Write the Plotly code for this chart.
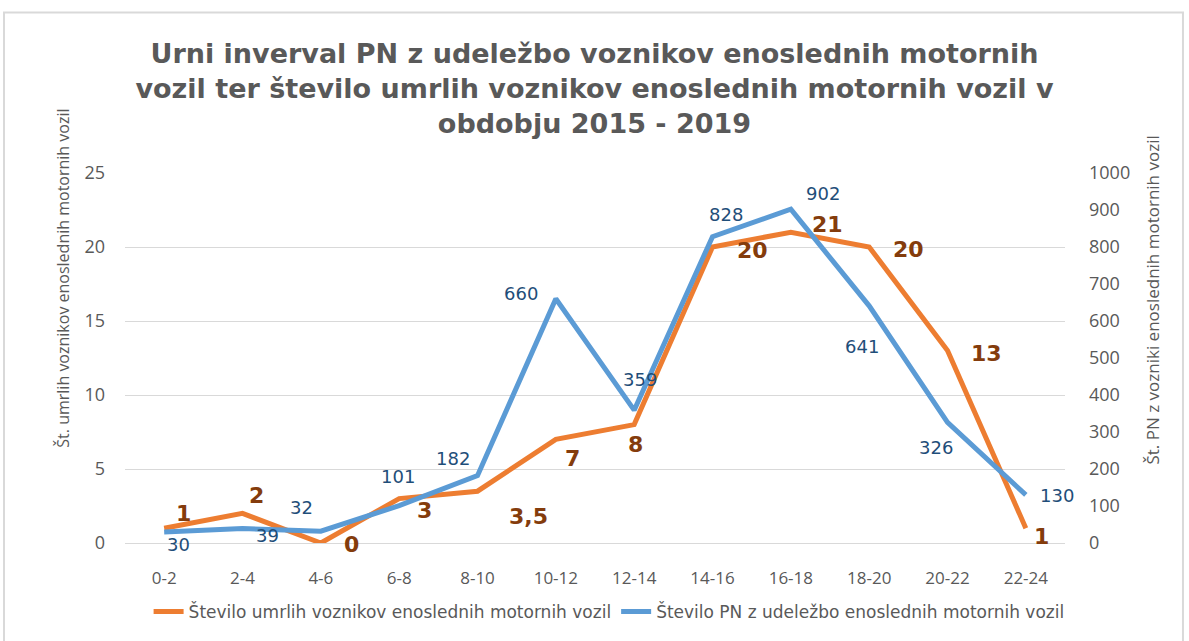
import plotly.graph_objects as go

categories = ["0-2", "2-4", "4-6", "6-8", "8-10", "10-12", "12-14", "14-16", "16-18", "18-20", "20-22", "22-24"]
deaths = [1, 2, 0, 3, 3.5, 7, 8, 20, 21, 20, 13, 1]
deaths_labels = ["1", "2", "0", "3", "3,5", "7", "8", "20", "21", "20", "13", "1"]
accidents = [30, 39, 32, 101, 182, 660, 359, 828, 902, 641, 326, 130]

# label offsets (pixels) – style only
d_shift = [(19, 15), (14, 18), (31, -1), (25, -12), (51, -25), (17, -19), (1, -20),
           (40, -3), (37, 8), (39, -2), (39, -3), (16, -8)]
a_shift = [(14, -13), (25, -7), (-19, 24), (-1, 29), (-25, 17), (-35, 5), (6, 31),
           (13, 22), (32, 16), (-7, -41), (-12, -25), (31, -1)]

ORANGE = "#ED7D31"
BLUE = "#5B9BD5"
FONT = "Open Sans"
LFONT = "DejaVu Sans"
GRAY = "#595959"

fig = go.Figure()
fig.add_trace(go.Scatter(
    x=categories, y=deaths, mode="lines", name="Število umrlih voznikov enoslednih motornih vozil",
    line=dict(color=ORANGE, width=5), yaxis="y"))
fig.add_trace(go.Scatter(
    x=categories, y=accidents, mode="lines", name="Število PN z udeležbo enoslednih motornih vozil",
    line=dict(color=BLUE, width=5), yaxis="y2"))

ann = []
for c, v, t, (dx, dy) in zip(categories, deaths, deaths_labels, d_shift):
    ann.append(dict(x=c, y=v, xref="x", yref="y", text=t, showarrow=False,
                    xshift=dx, yshift=dy, font=dict(family=LFONT, size=22, color="#843C0C", weight="bold")))
for c, v, (dx, dy) in zip(categories, accidents, a_shift):
    ann.append(dict(x=c, y=v, xref="x", yref="y2", text=str(v), showarrow=False,
                    xshift=dx, yshift=dy, font=dict(family=LFONT, size=18, color="#1F4E79")))

# axis titles
ann.append(dict(x=-0.066, y=0.717, xref="paper", yref="paper", showarrow=False, textangle=-90,
                xanchor="center", yanchor="middle",
                text="Št. umrlih voznikov enoslednih motornih vozil",
                font=dict(family=FONT, size=16, color=GRAY)))
ann.append(dict(x=1.0936, y=0.658, xref="paper", yref="paper", showarrow=False, textangle=-90,
                xanchor="center", yanchor="middle",
                text="Št. PN z vozniki enoslednih motornih vozil",
                font=dict(family=FONT, size=17, color=GRAY)))

fig.update_layout(
    width=1189, height=641,
    margin=dict(l=125, r=124, t=173, b=97),
    paper_bgcolor="white", plot_bgcolor="white",
    title=dict(
        text="Urni inverval PN z udeležbo voznikov enoslednih motornih<br>vozil ter število umrlih voznikov enoslednih motornih vozil v<br>obdobju 2015 - 2019",
        x=0.5, xanchor="center", y=0.902, yanchor="top",
        font=dict(family=LFONT, size=27, color=GRAY, weight="bold")),
    xaxis=dict(type="category", range=[-0.5, 11.5], showgrid=False, showline=True, linecolor="#d9d9d9",
               tickfont=dict(family=FONT, size=17, color=GRAY), ticks="", ticklabelstandoff=20),
    yaxis=dict(range=[0, 25], dtick=5, showgrid=True, gridcolor="#d9d9d9", gridwidth=1,
               zeroline=False, tickfont=dict(family=FONT, size=18, color=GRAY),
               ticklabelstandoff=19),
    yaxis2=dict(range=[0, 1000], dtick=100, overlaying="y", side="right", showgrid=False,
                zeroline=False, tickfont=dict(family=FONT, size=18, color=GRAY),
                ticklabelstandoff=23),
    legend=dict(orientation="h", x=0.515, xanchor="center", y=-0.183, yanchor="middle",
                itemwidth=30, font=dict(family=LFONT, size=17, color=GRAY)),
    annotations=ann,
    shapes=[dict(type="rect", xref="paper", yref="paper", x0=-0.1287, x1=1.1255, y0=-0.35, y1=1.434,
                 line=dict(color="#d9d9d9", width=2), fillcolor="rgba(0,0,0,0)")],
)

fig.write_html("out.html", config={"displayModeBar": False},
               post_script="document.body.style.margin='0';")
